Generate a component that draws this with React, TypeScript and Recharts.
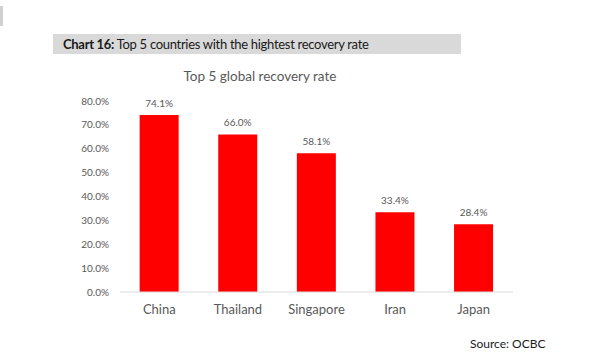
import React from "react";
import { BarChart, Bar, XAxis, YAxis, LabelList } from "recharts";

const countries = ["China", "Thailand", "Singapore", "Iran", "Japan"];
const recoveryRates = [74.1, 66.0, 58.1, 33.4, 28.4];
const yTicks = [0, 10, 20, 30, 40, 50, 60, 70, 80];

const data = countries.map((c, i) => ({ country: c, rate: recoveryRates[i] }));

const FONT = "Lato, 'Open Sans', sans-serif";
const GREY = "#595959";

export default function App() {
  return (
    <div style={{ position: "absolute", left: 0, top: 0, width: 601, height: 361, background: "#fff", fontFamily: FONT }}>
      <div style={{ position: "absolute", left: 0, top: 6, width: 3, height: 20, background: "#d0d0d0" }} />
      <div
        style={{
          position: "absolute",
          left: 53,
          top: 34,
          width: 408,
          height: 20,
          background: "#d9d9d9",
          color: "#1a1a1a",
          fontSize: 13,
          letterSpacing: -0.3,
          lineHeight: "20px",
          paddingLeft: 10,
          boxSizing: "border-box",
          whiteSpace: "nowrap",
        }}
      >
        <span style={{ fontWeight: 700 }}>Chart 16:</span> Top 5 countries with the hightest recovery rate
      </div>
      <div
        style={{
          position: "absolute",
          left: 120,
          width: 280,
          top: 66,
          textAlign: "center",
          color: GREY,
          fontSize: 13.5,
          lineHeight: "20px",
        }}
      >
        Top 5 global recovery rate
      </div>
      <BarChart
        width={601}
        height={361}
        data={data}
        margin={{ top: 101, right: 88, bottom: 39, left: 0 }}
        barCategoryGap="25%"
      >
        <XAxis
          dataKey="country"
          height={30}
          axisLine={{ stroke: "#d9d9d9" }}
          tickLine={false}
          tickMargin={7}
          tick={{ fill: GREY, fontSize: 13, fontFamily: FONT }}
          interval={0}
        />
        <YAxis
          width={120}
          domain={[0, 80]}
          ticks={yTicks}
          axisLine={false}
          tickLine={false}
          tickMargin={5}
          tickFormatter={(v: number) => v.toFixed(1) + "%"}
          tick={{ fill: GREY, fontSize: 10, fontFamily: FONT }}
        />
        <Bar dataKey="rate" fill="#ff0000" isAnimationActive={false}>
          <LabelList
            dataKey="rate"
            position="top"
            offset={8}
            formatter={(v: number) => v.toFixed(1) + "%"}
            style={{ fill: GREY, fontSize: 10, fontFamily: FONT }}
          />
        </Bar>
      </BarChart>
      <div style={{ position: "absolute", left: 470, top: 336, fontSize: 12, color: "#1a1a1a", whiteSpace: "nowrap" }}>
        Source: OCBC
      </div>
    </div>
  );
}
